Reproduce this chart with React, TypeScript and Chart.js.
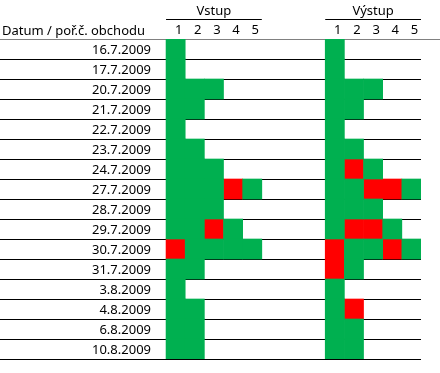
import React, { useEffect, useRef } from "react";
import { Chart, registerables } from "chart.js";

Chart.register(...registerables);

// ---- data ----
const DATES: string[] = [
  "16.7.2009", "17.7.2009", "20.7.2009", "21.7.2009", "22.7.2009", "23.7.2009",
  "24.7.2009", "27.7.2009", "28.7.2009", "29.7.2009", "30.7.2009", "31.7.2009",
  "3.8.2009", "4.8.2009", "6.8.2009", "10.8.2009",
];
// W = ziskový obchod (zelená), L = ztrátový (červená); one letter per trade
const VSTUP: string[] = [
  "W", "W", "WWW", "WW", "W", "WW", "WWW", "WWWLW",
  "WWW", "WWLW", "LWWWW", "WW", "W", "WW", "WW", "WW",
];
const VYSTUP: string[] = [
  "W", "W", "WWW", "WW", "W", "WW", "WLW", "WWLLW",
  "WWW", "WLLW", "LWWLW", "LW", "W", "WL", "WW", "WW",
];
const GROUP_LABELS: string[] = ["Vstup", "Výstup"];
const TRADE_NUMBERS: string[] = ["1", "2", "3", "4", "5"];
const HEADER_LABEL = "Datum / poř.č. obchodu";

// ---- layout / style ----
const GROUP_OFFSET = 8.31; // start of second group, in column units
const MAX_TRADES = 5;
const X_MIN = -0.42;
const X_MAX = GROUP_OFFSET + MAX_TRADES;
const GREEN = "#00B050";
const RED = "#FF0000";
const FONT = { family: "'Noto Sans', 'Open Sans', sans-serif", size: 13 };

function cells(rows: string[], groupIndex: number, outcome: string) {
  const out: { x: [number, number]; y: string }[] = [];
  rows.forEach((s, r) => {
    s.split("").forEach((ch, c) => {
      if (ch === outcome) {
        const start = groupIndex * GROUP_OFFSET + c;
        out.push({ x: [start, start + 1], y: DATES[r] });
      }
    });
  });
  return out;
}

const tradeTicks: number[] = [];
GROUP_LABELS.forEach((_, g) => {
  TRADE_NUMBERS.forEach((_, c) => tradeTicks.push(g * GROUP_OFFSET + c + 0.5));
});
const groupTicks: number[] = GROUP_LABELS.map((_, g) => g * GROUP_OFFSET + MAX_TRADES / 2);

const decorPlugin = {
  id: "decor",
  afterDraw(chart: any) {
    const ctx = chart.ctx;
    const x = chart.scales.x;
    const x2 = chart.scales.x2;
    ctx.save();
    // group underlines
    ctx.strokeStyle = "#000000";
    ctx.lineWidth = 1;
    const yLine = Math.round(x2.bottom) - 0.5;
    GROUP_LABELS.forEach((_, g) => {
      const a = x.getPixelForValue(g * GROUP_OFFSET);
      const b = x.getPixelForValue(g * GROUP_OFFSET + MAX_TRADES);
      ctx.beginPath();
      ctx.moveTo(a, yLine);
      ctx.lineTo(b, yLine);
      ctx.stroke();
    });
    // header text on the same line as trade numbers
    ctx.fillStyle = "#000000";
    ctx.font = `${FONT.size}px ${FONT.family}`;
    ctx.textAlign = "left";
    ctx.textBaseline = "alphabetic";
    ctx.fillText(HEADER_LABEL, 2, x.bottom - 4);
    // header separator continues to the right edge
    ctx.strokeStyle = "#808080";
    ctx.beginPath();
    ctx.moveTo(chart.chartArea.right, Math.round(chart.chartArea.top) + 0.5);
    ctx.lineTo(chart.width, Math.round(chart.chartArea.top) + 0.5);
    ctx.stroke();
    ctx.restore();
  },
};

export default function App() {
  const ref = useRef<HTMLCanvasElement | null>(null);

  useEffect(() => {
    document.body.style.margin = "0";
    const canvas = ref.current;
    if (!canvas) return;
    const ds = (rows: string[], g: number, outcome: string, color: string, label: string) => ({
      label,
      data: cells(rows, g, outcome),
      backgroundColor: color,
      borderWidth: 0,
      grouped: false,
      categoryPercentage: 1,
      barPercentage: 1,
    });
    const chart = new Chart(canvas, {
      type: "bar",
      data: {
        labels: DATES,
        datasets: [
          ds(VSTUP, 0, "W", GREEN, "Vstup zisk"),
          ds(VSTUP, 0, "L", RED, "Vstup ztráta"),
          ds(VYSTUP, 1, "W", GREEN, "Výstup zisk"),
          ds(VYSTUP, 1, "L", RED, "Výstup ztráta"),
        ] as any,
      },
      plugins: [decorPlugin],
      options: {
        indexAxis: "y",
        animation: false,
        responsive: false,
        layout: { padding: { left: 0, right: 19, top: 0, bottom: 14 } },
        plugins: { legend: { display: false }, tooltip: { enabled: false } },
        scales: {
          y: {
            type: "category",
            z: 1,
            border: { display: false },
            grid: {
              offset: true,
              drawTicks: true,
              tickLength: 158,
              lineWidth: 1,
              color: (c: any) => (c.index === 0 ? "#808080" : c.index >= DATES.length ? "rgba(0,0,0,0)" : "#000000"),
            },
            ticks: {
              autoSkip: false,
              padding: -151,
              labelOffset: 1,
              color: "#000000",
              font: FONT,
            },
            afterFit: (s: any) => {
              s.width = 158;
            },
          },
          x: {
            type: "linear",
            position: "top",
            min: X_MIN,
            max: X_MAX,
            border: { display: false },
            grid: { display: false, drawTicks: false },
            afterBuildTicks: (s: any) => {
              s.ticks = tradeTicks.map((v) => ({ value: v }));
            },
            ticks: {
              padding: 1.2,
              labelOffset: 3,
              autoSkip: false,
              maxRotation: 0,
              color: "#000000",
              font: FONT,
              callback: (_v: any, i: number) => TRADE_NUMBERS[i % TRADE_NUMBERS.length],
            },
            afterFit: (s: any) => {
              s.height = 19;
            },
          },
          x2: {
            type: "linear",
            position: "top",
            weight: 1,
            min: X_MIN,
            max: X_MAX,
            border: { display: false },
            grid: { display: false, drawTicks: false },
            afterBuildTicks: (s: any) => {
              s.ticks = groupTicks.map((v) => ({ value: v }));
            },
            ticks: {
              padding: 1.2,
              autoSkip: false,
              maxRotation: 0,
              color: "#000000",
              font: FONT,
              callback: (_v: any, i: number) => GROUP_LABELS[i],
            },
            afterFit: (s: any) => {
              s.height = 20;
            },
          },
        },
      } as any,
    });
    return () => chart.destroy();
  }, []);

  return <canvas ref={ref} width={440} height={373} style={{ display: "block" }} />;
}
